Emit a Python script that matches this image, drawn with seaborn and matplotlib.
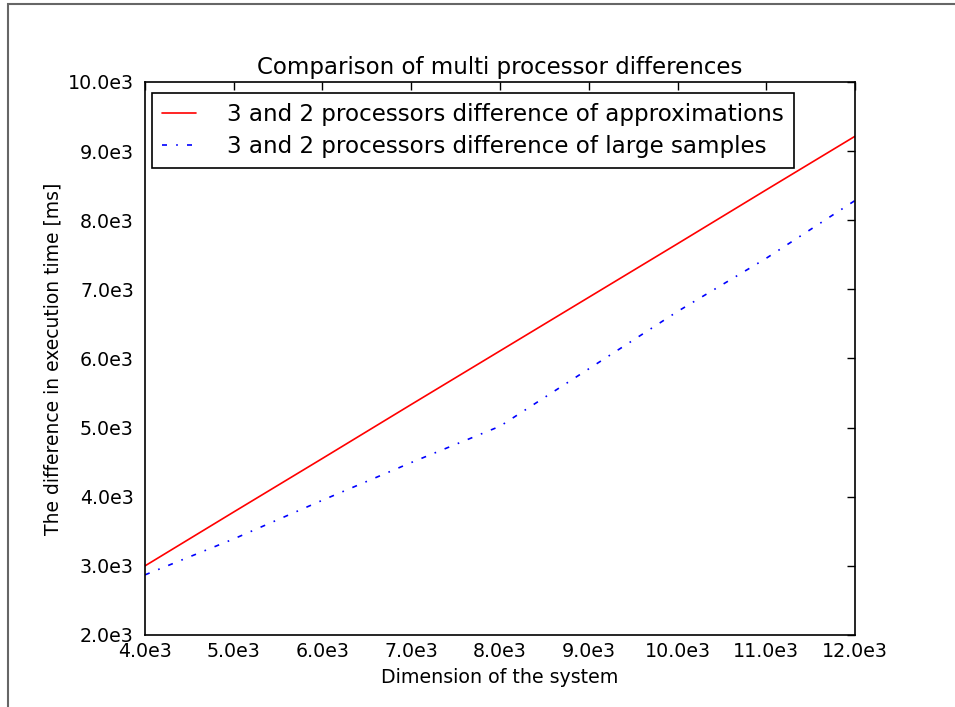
import pandas as pd
import numpy as np
import matplotlib
matplotlib.use("Agg")
import matplotlib.pyplot as plt
from matplotlib.patches import Rectangle
from matplotlib.ticker import FuncFormatter, MultipleLocator
import seaborn as sns

# data
dimension = [4000, 5000, 6000, 7000, 8000, 9000, 10000, 11000, 12000]
diff_approx = [3000, 3780, 4555, 5335, 6110, 6885, 7660, 8440, 9215]
diff_large = [2870, 3390, 3950, 4495, 5020, 5850, 6680, 7450, 8285]

label_approx = "3 and 2 processors difference of approximations"
label_large = "3 and 2 processors difference of large samples"

sns.set_style("white")
plt.rcParams["font.family"] = ["DejaVu Sans"]
plt.rcParams["text.color"] = "black"
plt.rcParams["axes.labelcolor"] = "black"
plt.rcParams["xtick.color"] = "black"
plt.rcParams["ytick.color"] = "black"

fig, ax = plt.subplots(figsize=(9.55, 7.07), dpi=100)
fig.subplots_adjust(left=145/955, right=855/955, top=1-82/707, bottom=1-635/707)

df = pd.DataFrame({"dim": dimension, "approx": diff_approx, "large": diff_large})

sns.lineplot(data=df, x="dim", y="approx", color="red", linewidth=1.2,
             label=label_approx, ax=ax)
sns.lineplot(data=df, x="dim", y="large", color="blue", linewidth=1.2,
             label=label_large, ax=ax)
ax.lines[1].set_dashes((3, 5.5, 1, 5.5))

ax.set_xlim(4000, 12000)
ax.set_ylim(2000, 10000)
ax.xaxis.set_major_locator(MultipleLocator(1000))
ax.yaxis.set_major_locator(MultipleLocator(1000))
fmt = FuncFormatter(lambda v, p: "{:.1f}e3".format(v / 1000))
ax.xaxis.set_major_formatter(fmt)
ax.yaxis.set_major_formatter(fmt)
ax.tick_params(axis="both", which="both", direction="in", length=6, width=1,
               top=True, right=True, labelsize=13.7, color="black",
               labelcolor="black")
ax.tick_params(axis="x", pad=5)
ax.tick_params(axis="y", pad=8)

for s in ax.spines.values():
    s.set_color("black")
    s.set_linewidth(1.2)

ax.set_title("Comparison of multi processor differences", fontsize=16.5, pad=6,
             color="black")
ax.set_xlabel("Dimension of the system", fontsize=13.7, labelpad=5)
ax.set_ylabel("The difference in execution time [ms]", fontsize=13.5, labelpad=4)

leg = ax.legend(loc="upper left", bbox_to_anchor=(7/710, 1 - 11/553),
                borderaxespad=0, fontsize=16.6, frameon=True, fancybox=False,
                edgecolor="black", framealpha=1,
                handlelength=1.5, handletextpad=1.35, borderpad=0.42,
                labelspacing=0.42)
leg.get_frame().set_linewidth(1.2)
leg.get_lines()[1].set_dashes((3, 5.5, 1, 5.5))
for t in leg.get_texts():
    t.set_color("black")

# the grey figure edge that shows on the top and left of the reference
fig.patches.append(Rectangle((7.5/955, -0.1), 1.2, 1.1 - 4.5/707,
                             transform=fig.transFigure, fill=False,
                             edgecolor="#666666", linewidth=1.5, clip_on=False))

fig.savefig("out.png", dpi=100)
